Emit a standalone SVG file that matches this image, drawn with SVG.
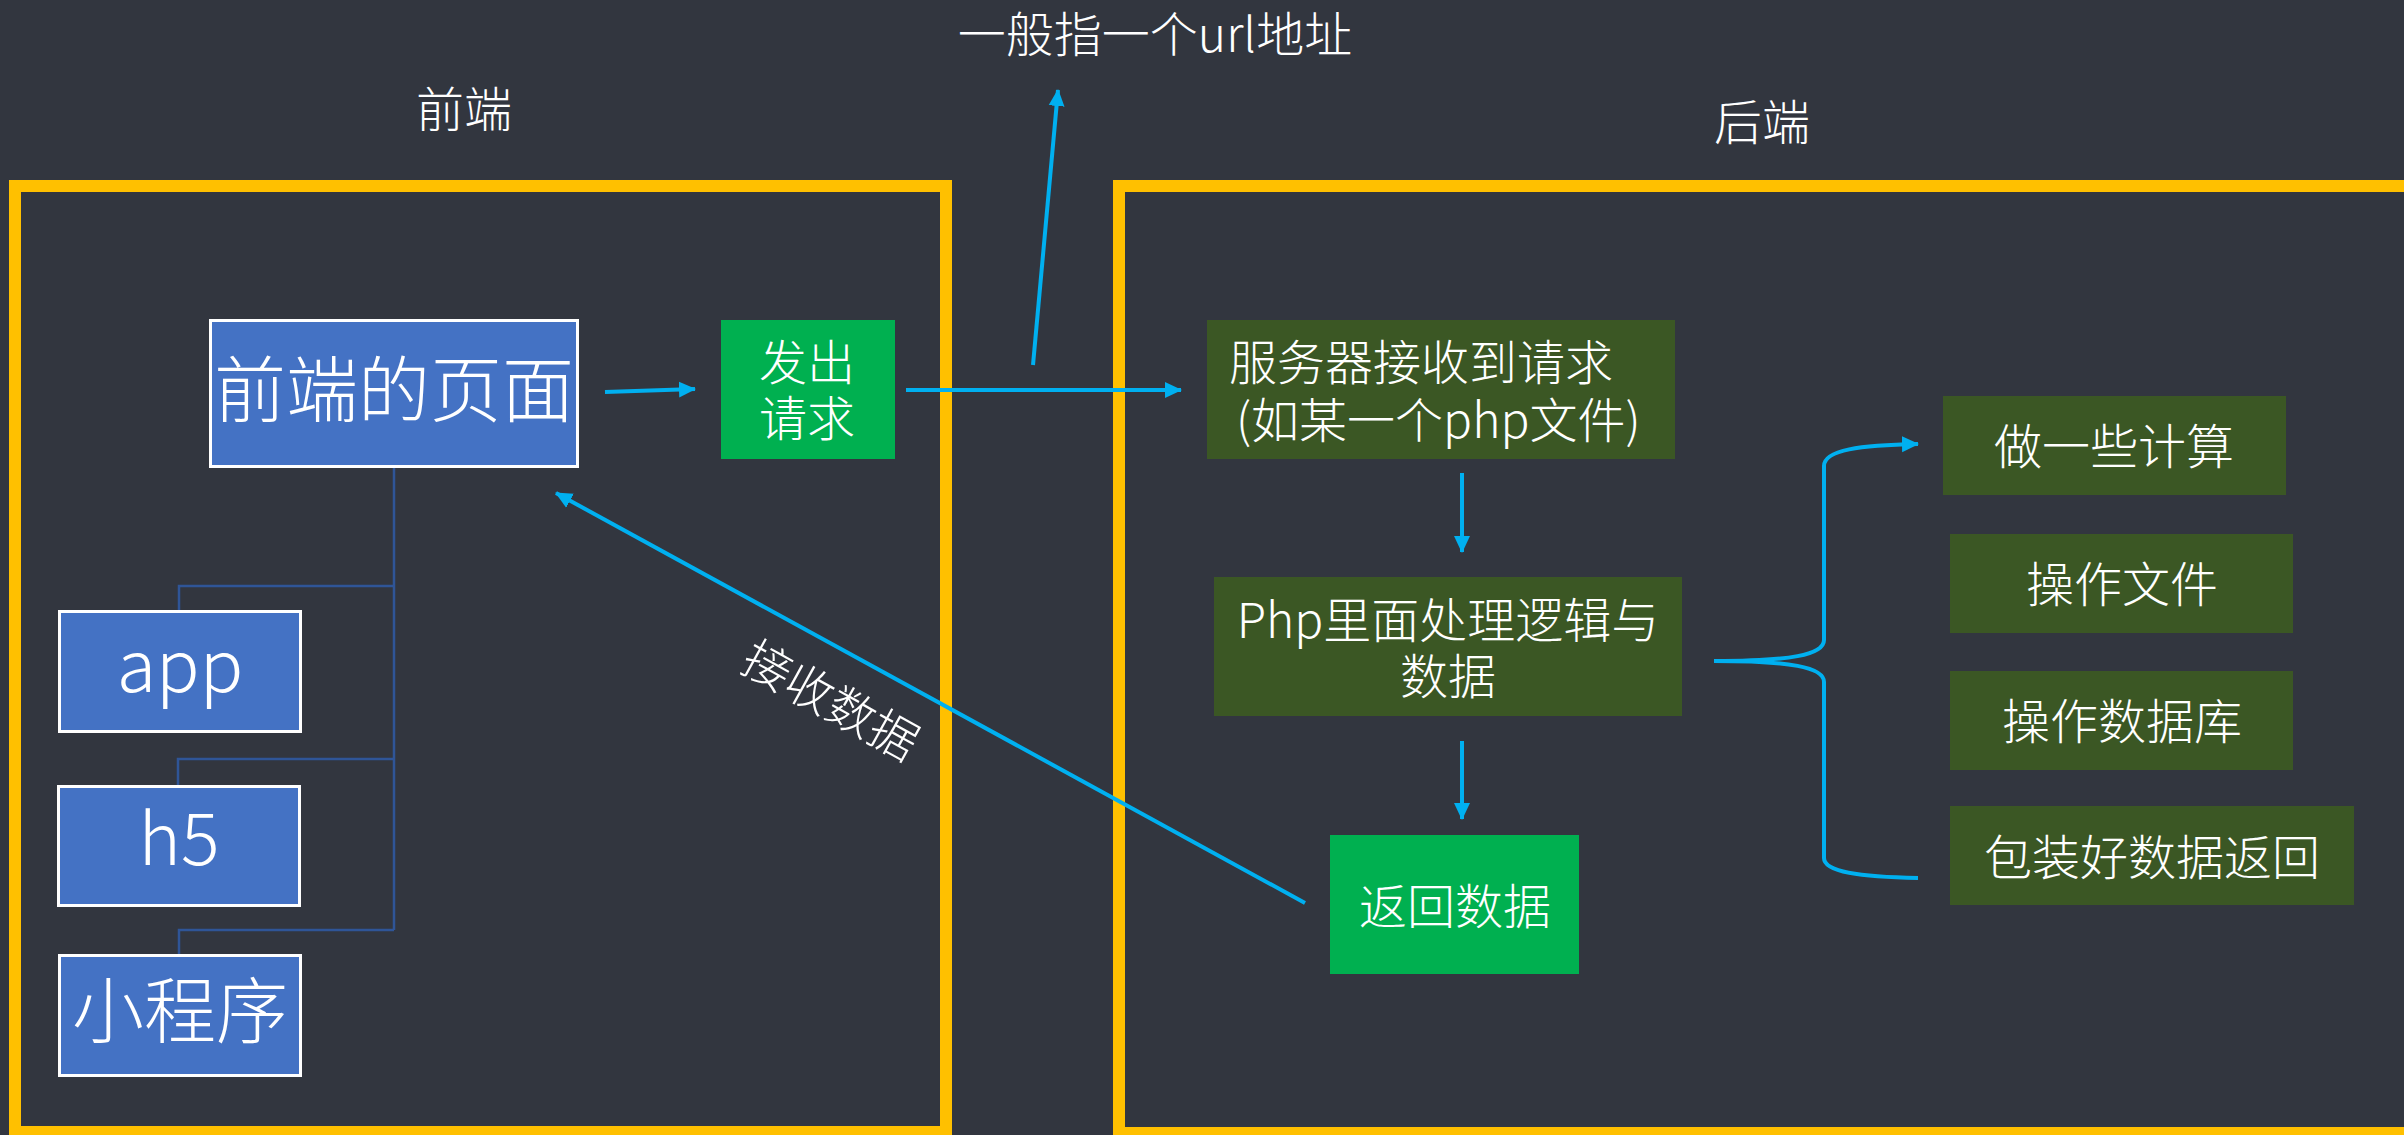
<svg xmlns="http://www.w3.org/2000/svg" width="2404" height="1135" viewBox="0 0 2404 1135">
<defs>
<style>
text{font-family:"Noto Sans CJK SC","Noto Sans",sans-serif;fill:#FFFFFF;font-weight:300;}
.t48{font-size:48px;}
.t72{font-size:72px;}
.frame{fill:none;stroke:#FFC000;stroke-width:12;}
.blue{fill:#4472C4;stroke:#FFFFFF;stroke-width:3;}
.green{fill:#00B050;}
.dark{fill:#3B5724;}
.conn{fill:none;stroke:#00B0F0;stroke-width:4;}
.tree{fill:none;stroke:#2F5597;stroke-width:2.5;}
</style>
<marker id="ah" markerUnits="userSpaceOnUse" markerWidth="18" markerHeight="18" viewBox="0 0 18 18" refX="16" refY="9" orient="auto">
<path d="M0,1 L17,9 L0,17 Z" fill="#00B0F0"/>
</marker>
</defs>
<rect x="0" y="0" width="2404" height="1135" fill="#32363F"/>

<g id="frame-front"><rect class="frame" x="15" y="186" width="931" height="946"/></g>
<g id="frame-back"><rect class="frame" x="1119" y="186" width="1300" height="947"/></g>

<g id="label-url"><text class="t48" x="1155" y="52" text-anchor="middle">一般指一个url地址</text></g>
<g id="label-front"><text class="t48" x="464" y="127" text-anchor="middle">前端</text></g>
<g id="label-back"><text class="t48" x="1762" y="140" text-anchor="middle">后端</text></g>

<g id="connectors">
<path class="tree" d="M394,468 V930 M394,586 H179 V610 M394,759 H178 V785 M394,930 H179 V954"/>
<line class="conn" x1="605" y1="392" x2="695" y2="389" marker-end="url(#ah)"/>
<line class="conn" x1="906" y1="390" x2="1181" y2="390" marker-end="url(#ah)"/>
<line class="conn" x1="1033" y1="365" x2="1058" y2="90" marker-end="url(#ah)"/>
<line class="conn" x1="1462" y1="473" x2="1462" y2="552" marker-end="url(#ah)"/>
<line class="conn" x1="1462" y1="741" x2="1462" y2="819" marker-end="url(#ah)"/>
<line class="conn" x1="1305" y1="903" x2="556" y2="493" marker-end="url(#ah)"/>
<path class="conn" d="M1714,661 C1790,661 1824,655 1824,640 L1824,466 C1824,450 1860,445 1918,444" marker-end="url(#ah)"/>
<path class="conn" d="M1714,661 C1790,661 1824,667 1824,682 L1824,858 C1824,872 1860,877 1918,878"/>
<text class="t48" transform="translate(831,700) rotate(29)" x="0" y="18" text-anchor="middle">接收数据</text>
</g>

<g id="node-page">
<rect class="blue" x="210.5" y="320.5" width="367" height="146"/>
<text class="t72" x="394" y="416" text-anchor="middle">前端的页面</text>
</g>
<g id="node-app">
<rect class="blue" x="59.5" y="611.5" width="241" height="120"/>
<text class="t72" x="180" y="692" text-anchor="middle">app</text>
</g>
<g id="node-h5">
<rect class="blue" x="58.5" y="786.5" width="241" height="119"/>
<text class="t72" x="179" y="865" text-anchor="middle">h5</text>
</g>
<g id="node-mini">
<rect class="blue" x="59.5" y="955.5" width="241" height="120"/>
<text class="t72" x="180" y="1037" text-anchor="middle">小程序</text>
</g>
<g id="node-request">
<rect class="green" x="721" y="320" width="174" height="139"/>
<text class="t48" text-anchor="middle"><tspan x="807" y="380">发出</tspan><tspan x="807" y="436">请求</tspan></text>
</g>
<g id="node-server">
<rect class="dark" x="1207" y="320" width="468" height="139"/>
<text class="t48"><tspan x="1229" y="380">服务器接收到请求</tspan><tspan x="1236" y="438">(如某一个php文件)</tspan></text>
</g>
<g id="node-php">
<rect class="dark" x="1214" y="577" width="468" height="139"/>
<text class="t48" text-anchor="middle"><tspan x="1448" y="638">Php里面处理逻辑与</tspan><tspan x="1448" y="694">数据</tspan></text>
</g>
<g id="node-return">
<rect class="green" x="1330" y="835" width="249" height="139"/>
<text class="t48" x="1455" y="924" text-anchor="middle">返回数据</text>
</g>
<g id="node-calc">
<rect class="dark" x="1943" y="396" width="343" height="99"/>
<text class="t48" x="2114" y="464" text-anchor="middle">做一些计算</text>
</g>
<g id="node-file">
<rect class="dark" x="1950" y="534" width="343" height="99"/>
<text class="t48" x="2122" y="602" text-anchor="middle">操作文件</text>
</g>
<g id="node-db">
<rect class="dark" x="1950" y="671" width="343" height="99"/>
<text class="t48" x="2122" y="739" text-anchor="middle">操作数据库</text>
</g>
<g id="node-pack">
<rect class="dark" x="1950" y="806" width="404" height="99"/>
<text class="t48" x="2152" y="875" text-anchor="middle">包装好数据返回</text>
</g>
</svg>
